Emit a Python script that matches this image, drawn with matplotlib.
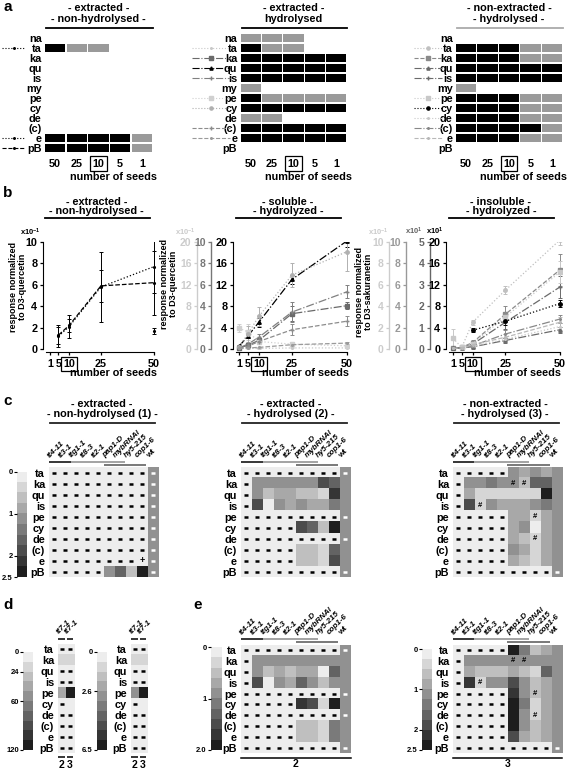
import numpy as np
import matplotlib
matplotlib.use('Agg')
import matplotlib.pyplot as plt
from matplotlib.colors import ListedColormap
from matplotlib.lines import Line2D

plt.rcParams['font.family'] = ['Liberation Sans', 'DejaVu Sans']
plt.rcParams['font.weight'] = 'bold'
plt.rcParams['mathtext.default'] = 'regular'

W, H = 567, 769
nan = np.nan

# ---- a: detection per number of seeds (0 = none, 1 = detected, 2 = quantified)
A_ROWS = ['na', 'ta', 'ka', 'qu', 'is', 'my', 'pe', 'cy', 'de', '(c)', 'e', 'pB']
A_SEEDS = ['50', '25', '10', '5', '1']
A1_CELLS = ['00000', '21100', '00000', '00000', '00000', '00000',
            '00000', '00000', '00000', '00000', '22221', '22221']
A2_CELLS = ['11100', '21100', '22222', '22222', '22222', '10000',
            '21111', '22222', '11000', '22222', '22222', '00000']
A3_CELLS = ['00000', '22211', '22211', '22222', '22222', '10000',
            '22211', '22211', '22211', '22221', '22211', '00000']
A_FILL = {'1': '#9a9a9a', '2': '#000000'}

# ---- b: response vs number of seeds
B_SEEDS = [1, 5, 10, 25, 50]

B1_MEAN = {'ta': [nan, nan, nan, nan, 1.7],
           'e': [nan, 1.2, 2.1, 5.8, 7.7],
           'pB': [nan, 1.3, 2.2, 5.9, 6.2]}
B1_ERR = {'ta': [nan, nan, nan, nan, 0.3],
          'e': [nan, 1.0, 1.1, 3.3, 2.5],
          'pB': [nan, 0.8, 0.6, 1.5, 3.0]}
B1_STYLE = {'ta': ('black', ':', '.'), 'e': ('black', ':', '.'),
            'pB': ('black', '--', '.')}

B2_MEAN = {'ta': [0.1, 0.1, 0.1, 0.2, 0.2],
           'ka': [0.2, 0.7, 1.6, 6.6, 8.1],
           'qu': [0.5, 2.4, 5.0, 13.0, 20.2],
           'is': [0.2, 0.9, 2.2, 6.9, 10.7],
           'pe': [3.9, 3.2, 1.4, 0.9, 0.6],
           'cy': [0.4, 2.8, 6.1, 13.8, 18.2],
           '(c)': [0.1, 0.5, 1.4, 3.6, 5.2],
           'e': [0.1, 0.2, 0.3, 0.8, 1.1]}
B2_ERR = {'ta': [0.05, 0.05, 0.05, 0.1, 0.1],
          'ka': [0.1, 0.3, 0.5, 1.4, 0.6],
          'qu': [0.2, 0.4, 0.8, 0.9, 1.2],
          'is': [0.1, 0.3, 0.6, 1.8, 1.2],
          'pe': [0.7, 1.5, 0.5, 0.4, 0.3],
          'cy': [0.3, 1.5, 1.8, 2.2, 3.6],
          '(c)': [0.1, 0.2, 0.4, 1.0, 0.9],
          'e': [0.05, 0.1, 0.1, 0.2, 0.3]}
B2_STYLE = {'ta': ('#c8c8c8', ':', '.'), 'ka': ('#6a6a6a', '-.', 's'),
            'qu': ('black', '-.', '^'), 'is': ('#808080', '-.', '+'),
            'pe': ('#d0d0d0', ':', 's'), 'cy': ('#b0b0b0', ':', 'o'),
            '(c)': ('#8c8c8c', '--', '+'), 'e': ('#9a9a9a', '--', '.')}

B3_MEAN = {'ta': [0.1, 0.3, 5.0, 11.0, 20.4],
           'ka': [0.1, 0.3, 1.2, 6.5, 14.8],
           'qu': [0.1, 0.2, 0.4, 1.6, 3.6],
           'is': [0.1, 0.3, 0.9, 5.0, 11.6],
           'pe': [2.0, 0.3, 1.0, 6.0, 14.4],
           'cy': [nan, nan, 3.5, 5.2, 8.5],
           'de': [0.1, 0.2, 0.5, 1.8, 4.2],
           '(c)': [0.1, 0.2, 0.6, 2.8, 5.6],
           'e': [0.1, 0.2, 0.8, 2.2, 5.0]}
B3_ERR = {'ta': [0.1, 0.2, 0.5, 0.8, 1.0],
          'ka': [0.1, 0.2, 0.5, 1.5, 3.0],
          'qu': [0.1, 0.1, 0.2, 0.4, 0.6],
          'is': [0.1, 0.2, 0.4, 1.2, 2.0],
          'pe': [1.7, 0.2, 0.5, 1.0, 2.0],
          'cy': [nan, nan, 0.4, 0.8, 0.6],
          'de': [0.1, 0.1, 0.2, 0.5, 0.7],
          '(c)': [0.1, 0.1, 0.3, 0.8, 0.8],
          'e': [0.1, 0.1, 0.3, 0.6, 0.9]}
B3_STYLE = {'ta': ('#c0c0c0', ':', 'o'), 'ka': ('#8a8a8a', '--', 's'),
            'qu': ('#6a6a6a', '-.', '^'), 'is': ('#6a6a6a', '-.', '+'),
            'pe': ('#c8c8c8', ':', 's'), 'cy': ('black', ':', 'o'),
            'de': ('#c8c8c8', ':', '.'), '(c)': ('#888888', '-.', '.'),
            'e': ('#b8b8b8', '--', '.')}

# ---- c/d/e: '-' = not detected, digit = grey level 0 (light) .. 9 (dark)
C_ROWS = ['ta', 'ka', 'qu', 'is', 'pe', 'cy', 'de', '(c)', 'e', 'pB']
C_COLS = ['tt4-11', 'tt3-1', 'ttg1-1', 'tt8-3', 'tt2-1',
          'pap1-D', 'mybRNAi', 'hy5-215', 'cop1-6', 'wt']
C1_CODES = ['----------', '----------', '----------', '----------',
            '----------', '----------', '----------', '----------',
            '--------0-', '-----4629-']
C1_MARKS = [('e', 8, '+')]
C2_CODES = ['----------', '-444444764', '-423322184', '-704343354',
            '----------', '-----76294', '----------', '-----22164',
            '-----22174', '----------']
C3_CODES = ['-----43434', '-445442664', '-311111194', '-714333454',
            '-----33134', '-----34034', '-----32134', '-----43134',
            '-----32134', '----------']
C3_MARKS = [('ka', 5, '#'), ('ka', 6, '#'), ('is', 2, '#'),
            ('pe', 7, '#'), ('de', 7, '#')]

D_COLS = ['tt7-1', 'tt7-1']
D_LINES = ['2', '3']
D1_CODES = ['--', '11', '--', '--', '39', '-0', '--', '--', '--', '--']
D2_CODES = ['--', '11', '--', '--', '49', '-0', '--', '--', '--', '--']

E1_CODES = ['----------', '-444444444', '-423233064', '-704364244',
            '----------', '-----87194', '----------', '-----22154',
            '-----22154', '----------']
E2_CODES = ['-----95234', '-444444444', '-322232164', '-814474234',
            '-----84234', '-----95134', '-----94134', '-----94234',
            '-----73234', '----------']
E2_MARKS = [('ka', 5, '#'), ('ka', 6, '#'), ('is', 2, '#'),
            ('pe', 7, '#'), ('de', 7, '#')]

GREYS = [0.93 - 0.09 * k for k in range(10)]
HEAT_CMAP = ListedColormap([(g, g, g) for g in GREYS])
WT_LEVEL = 4

fig = plt.figure(figsize=(W / 100, H / 100), dpi=100)


def fx(x):
    return x / W


def fy(y):
    return 1 - y / H


def box(x0, y0, x1, y1):
    return fig.add_axes([fx(x0), fy(y1), (x1 - x0) / W, (y1 - y0) / H])


def ftext(x, y, s, **kw):
    kw.setdefault('ha', 'center')
    kw.setdefault('va', 'center')
    fig.text(fx(x), fy(y), s, **kw)


def fline(x0, x1, y, color='black', lw=1.3):
    fig.add_artist(Line2D([fx(x0), fx(x1)], [fy(y), fy(y)], color=color, lw=lw))


def boxed_ten(ax):
    for t in ax.get_xticklabels():
        if t.get_text() == '10':
            t.set_bbox(dict(boxstyle='square,pad=0.2', fc='none', ec='black', lw=0.9))


def clean(ax):
    for s in ax.spines.values():
        s.set_visible(False)
    ax.patch.set_visible(False)


# ---------------- panel a
def draw_a(x0, x1, cells, title, line_color, leg_x, styles):
    ax = box(x0, 33, x1, 153)
    n = len(A_ROWS)
    ax.set_xlim(0, 5)
    ax.set_ylim(n, 0)
    for i, row in enumerate(cells):
        for j, ch in enumerate(row):
            if ch != '0':
                ax.barh(i + 0.5, 0.95, left=j + 0.025, height=0.83,
                        color=A_FILL[ch], linewidth=0)
    ax.set_yticks(np.arange(n) + 0.5)
    ax.set_yticklabels(A_ROWS, fontsize=7.8)
    ax.set_xticks(np.arange(5) + 0.5)
    ax.set_xticklabels(A_SEEDS, fontsize=7.8)
    ax.tick_params(axis='y', length=0, pad=2)
    ax.tick_params(axis='x', length=0, pad=4)
    boxed_ten(ax)
    clean(ax)
    cx = (x0 + x1) / 2
    ftext(cx, 8, title[0], fontsize=7.8)
    ftext(cx, 19, title[1], fontsize=7.8)
    fline(x0 + 2, x1, 28, color=line_color)
    ftext(cx + 15, 177, 'number of seeds', fontsize=7.8)
    for name, (c, ls, m) in styles.items():
        y = fy(38 + 10 * A_ROWS.index(name))
        xs = [fx(leg_x[0]), fx((leg_x[0] + leg_x[1]) / 2), fx(leg_x[1])]
        fig.add_artist(Line2D(xs, [y, y, y], color=c, ls=ls, lw=0.8,
                              marker=m, markevery=[1], ms=2.3))


draw_a(44.3, 152.7, A1_CELLS, ['- extracted -', '- non-hydrolysed -'], 'black',
       (2, 25), B1_STYLE)
draw_a(240, 347, A2_CELLS, ['- extracted -', 'hydrolysed'], 'black',
       (192, 230), B2_STYLE)
draw_a(455.3, 562.7, A3_CELLS, ['- non-extracted -', '- hydrolysed -'], '#aaaaaa',
       (414, 442), B3_STYLE)


# ---------------- panel b
BY0, BY1 = 242, 352


def side_axis(x, ymax, step, color):
    a = box(x, BY0, x + 1, BY1)
    a.set_ylim(-3 * ymax / 107, ymax)
    ticks = np.arange(0, ymax + 0.01, step)
    a.set_yticks(ticks)
    a.set_yticklabels([f'{v:g}' for v in ticks], fontsize=7.5, color=color)
    a.tick_params(axis='y', colors=color, length=2.5, width=0.9, pad=1.5)
    a.set_xticks([])
    for k in ['top', 'right', 'bottom']:
        a.spines[k].set_visible(False)
    a.spines['left'].set_color(color)
    a.spines['left'].set_linewidth(1.0)
    a.spines['left'].set_bounds(0, ymax)
    a.patch.set_visible(False)


def draw_b(x0, x1, p1, p50, ymax, step, means, errs, styles, title):
    ax = box(x0, BY0, x1, BY1)
    u = 49 / (p50 - p1)
    ax.set_xlim(1 - (p1 - x0) * u, 50 + (x1 - p50) * u)
    ax.set_ylim(-3 * ymax / 107, ymax)
    for name, (c, ls, m) in styles.items():
        ax.errorbar(B_SEEDS, means[name], yerr=errs[name], color=c, ls=ls, lw=0.9,
                    marker=m, ms=2.5, elinewidth=0.7, capsize=1.6, capthick=0.7)
    ax.set_xticks(B_SEEDS)
    ax.set_xticklabels([str(s) for s in B_SEEDS], fontsize=7.8)
    ticks = np.arange(0, ymax + 0.01, step)
    ax.set_yticks(ticks)
    ax.set_yticklabels([f'{v:g}' for v in ticks], fontsize=7.8)
    ax.tick_params(length=2.5, width=0.9, pad=1.5)
    ax.tick_params(axis='x', pad=2.5)
    boxed_ten(ax)
    for k in ['top', 'right']:
        ax.spines[k].set_visible(False)
    ax.spines['left'].set_bounds(0, ymax)
    ax.spines['bottom'].set_bounds(1 - (p1 - x0 - 3) * u, 50)
    ax.patch.set_visible(False)
    cx = (x0 + x1) / 2 - 3
    ftext(cx, 202, title[0], fontsize=7.8)
    ftext(cx, 211, title[1], fontsize=7.8)
    fline(cx - 52, cx + 53, 218)
    ftext(cx + 17, 373, 'number of seeds', fontsize=7.8)
    return ax


YLAB_FS = 6.5

draw_b(43, 156, 50, 154, 10, 2, B1_MEAN, B1_ERR, B1_STYLE,
       ['- extracted -', '- non-hydrolysed -'])
ftext(41, 232, r'x10$^{-1}$', ha='right', fontsize=5.5)
ftext(18, 287, 'response normalized\nto D3-quercetin', rotation=90,
      fontsize=YLAB_FS, linespacing=0.95)

side_axis(197, 20, 4, '#cccccc')
side_axis(211, 10, 2, '#777777')
draw_b(233, 349, 239, 347, 20, 4, B2_MEAN, B2_ERR, B2_STYLE,
       ['- soluble -', '- hydrolyzed -'])
ftext(196, 232, r'x10$^{-1}$', ha='right', fontsize=5.5, color='#cccccc')
ftext(169, 284, 'response normalized\nto D3-quercetin', rotation=90,
      fontsize=YLAB_FS, linespacing=0.95)

side_axis(389, 10, 2, '#cccccc')
side_axis(406, 10, 2, '#999999')
side_axis(430, 5, 1, '#666666')
draw_b(446, 562, 453, 560, 20, 4, B3_MEAN, B3_ERR, B3_STYLE,
       ['- insoluble -', '- hydrolyzed -'])
ftext(389, 232, r'x10$^{-1}$', ha='right', fontsize=5.5, color='#cccccc')
ftext(423, 231, r'x10$^{1}$', ha='right', fontsize=5.5, color='#666666')
ftext(444, 231, r'x10$^{1}$', ha='right', fontsize=5.5)
ftext(364, 292, 'response normalized\nto D3-sakuranetin', rotation=90,
      fontsize=YLAB_FS, linespacing=0.95)


# ---------------- heatmaps c, d, e
GROUPS = [(-0.5, 1.5, 'black', 5.0), (1.5, 6.5, '#8a8a8a', 5.0),
          (4.5, 8.4, '#555555', 2.0)]


def draw_heat(x0, x1, y0, y1, codes, cols, marks=(), wt=True, groups=GROUPS,
              label_gap=9.5, label_fs=5.8):
    ax = box(x0, y0, x1, y1)
    nr, nc = len(codes), len(codes[0])
    rowpx = (y1 - y0) / nr
    grid = np.zeros((nr, nc))
    dash_k, dash_w = [], []
    for i, row in enumerate(codes):
        for j, ch in enumerate(row):
            is_wt = wt and j == nc - 1
            if ch == '-':
                grid[i, j] = WT_LEVEL if is_wt else 0
                (dash_w if is_wt else dash_k).append((j, i))
            else:
                grid[i, j] = int(ch)
    ax.imshow(grid, cmap=HEAT_CMAP, vmin=-0.5, vmax=9.5, aspect='auto',
              interpolation='nearest', extent=(-0.5, nc - 0.5, nr - 0.5, -0.5))
    for pts, col in [(dash_k, 'black'), (dash_w, 'white')]:
        if pts:
            xs, ys = zip(*pts)
            ax.plot(xs, ys, ls='none', marker='_', ms=3.2, mew=1.8, color=col)
    for name, j, sym in marks:
        ax.text(j, C_ROWS.index(name), sym, ha='center', va='center',
                fontsize=6.5 if sym == '+' else 5.5, color='black')
    ax.set_yticks(range(nr))
    ax.set_yticklabels(C_ROWS, fontsize=7.8)
    ax.tick_params(axis='y', length=0, pad=2.5)
    ax.set_xticks([])
    clean(ax)
    ax.set_xlim(-0.5, nc - 0.5)
    ax.set_ylim(nr - 0.5, -0.5)
    top = -0.5 - label_gap / rowpx
    for j, name in enumerate(cols):
        ax.text(j - 0.4, top, name, rotation=45, rotation_mode='anchor',
                ha='left', va='baseline', fontsize=label_fs,
                style='normal' if name == 'wt' else 'italic')
    for a, b, c, gap in groups:
        yy = -0.5 - gap / rowpx
        ax.plot([a, b], [yy, yy], color=c, lw=1.1, clip_on=False,
                solid_capstyle='butt')
    return ax


def colorbar(x0, x1, y0, y1, vmax, ticks, labels):
    a = box(x0, y0, x1, y1)
    a.imshow(np.arange(10).reshape(-1, 1), cmap=HEAT_CMAP, vmin=-0.5, vmax=9.5,
             aspect='auto', extent=(0, 1, vmax, 0), interpolation='nearest')
    a.set_ylim(vmax, 0)
    a.set_yticks(ticks)
    a.set_yticklabels(labels, fontsize=5.5)
    a.tick_params(axis='y', length=2, width=0.8, pad=1)
    a.set_xticks([])
    clean(a)


def heat_title(cx, lines, x0, x1):
    ftext(cx, 404, lines[0], fontsize=7.8)
    ftext(cx, 414, lines[1], fontsize=7.8)
    fline(x0, x1, 423, color='#222222')


draw_heat(48.5, 158.5, 467.5, 577.5, C1_CODES, C_COLS, C1_MARKS)
colorbar(17, 27, 472, 577, 2.5, [0, 1, 2, 2.5], ['0', '1', '2', '2.5'])
heat_title(102, ['- extracted -', '- non-hydrolysed (1) -'], 50, 155)

draw_heat(240.5, 350.5, 467.5, 577.5, C2_CODES, C_COLS)
heat_title(291, ['- extracted -', '- hydrolysed (2) -'], 242, 347)

draw_heat(452.5, 562, 467.5, 577.5, C3_CODES, C_COLS, C3_MARKS)
heat_title(505, ['- non-extracted -', '- hydrolysed (3) -'], 454, 559)

# d
D_GROUPS = [(-0.4, 0.4, 'black', 5.0), (0.6, 1.4, 'black', 5.0)]
for hx0, hx1, codes in [(57.5, 74, D1_CODES), (130.5, 147, D2_CODES)]:
    axd = draw_heat(hx0, hx1, 643.5, 753.5, codes, D_COLS, wt=False,
                    groups=D_GROUPS, label_gap=9, label_fs=5.8)
    for j, lab in enumerate(D_LINES):
        axd.plot([j - 0.4, j + 0.4], [9.85, 9.85], color='black', lw=1.1,
                 clip_on=False, solid_capstyle='butt')
        axd.text(j, 10.5, lab, ha='center', va='center', fontsize=7.5,
                 clip_on=False)
colorbar(23, 33, 652, 750, 120, [0, 24, 60, 120], ['0', '24', '60', '120'])
colorbar(97, 107, 652, 750, 6.5, [0, 2.6, 6.5], ['0', '2.6', '6.5'])

# e
for hx0, hx1, codes, marks, lab in [(240.5, 350.5, E1_CODES, (), '2'),
                                    (452.5, 562, E2_CODES, E2_MARKS, '3')]:
    axe = draw_heat(hx0, hx1, 644.5, 753.5, codes, C_COLS, marks, label_gap=9.5)
    axe.plot([-0.5, 9.5], [9.9, 9.9], color='black', lw=1.1, clip_on=False)
    axe.text(4.5, 10.42, lab, ha='center', va='center', fontsize=7.5, clip_on=False)
colorbar(211, 222, 647, 750, 2.0, [0, 1, 2.0], ['0', '1', '2.0'])
colorbar(422, 432, 649, 750, 2.5, [0, 1, 2, 2.5], ['0', '1', '2', '2.5'])

# panel letters
for letter, x, y in [('a', 3, 7), ('b', 3, 193), ('c', 3, 401),
                     ('d', 3, 605), ('e', 193, 605)]:
    ftext(x, y, letter, ha='left', fontsize=11)

fig.savefig('out.png', dpi=100)
